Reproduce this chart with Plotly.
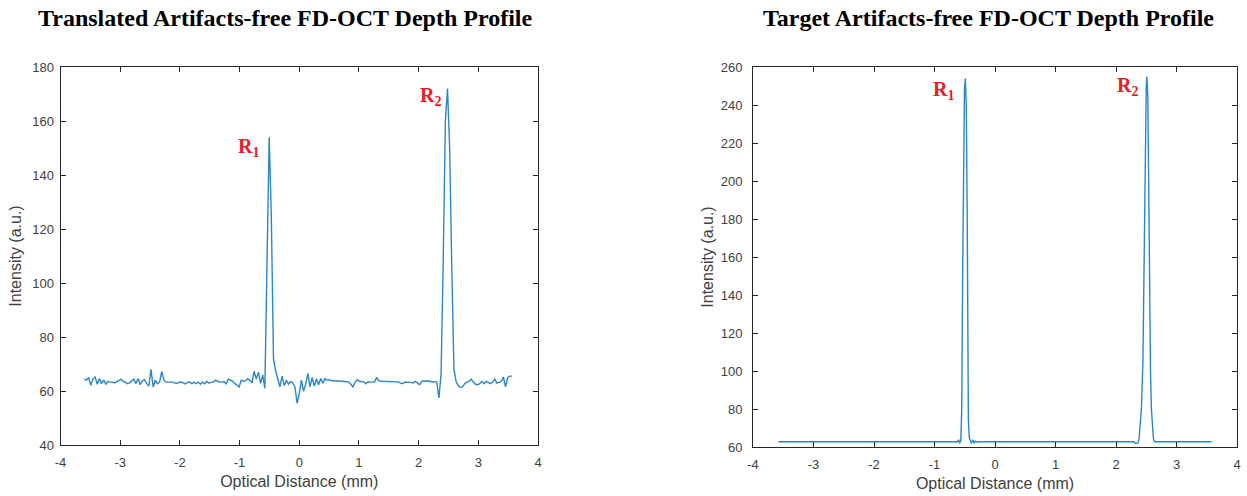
import plotly.graph_objects as go

# ---------------- data ----------------
x_tick_vals = [-4, -3, -2, -1, 0, 1, 2, 3, 4]
x_tick_text = ["-4", "-3", "-2", "-1", "0", "1", "2", "3", "4"]

# Left panel: uniformly sampled depth profile (start / step of the sample grid)
left_x_start = -3.6
left_x_step = 0.036
left_y = [
    64.4, 64.0, 65.0, 62.1, 64.4, 65.2, 62.5, 64.6, 62.7, 64.0,
    62.5, 63.6, 63.3, 63.3, 63.0, 63.3, 63.8, 64.4, 63.6, 63.3,
    62.7, 63.0, 63.6, 64.4, 62.7, 64.6, 62.3, 63.8, 64.2, 62.7,
    61.8, 68.0, 61.5, 64.0, 62.7, 63.3, 67.3, 64.0, 63.3, 63.3,
    63.3, 63.3, 63.0, 62.8, 63.2, 63.3, 63.0, 62.6, 63.2, 63.3,
    62.7, 63.3, 62.7, 63.3, 62.5, 63.3, 62.7, 63.6, 62.9, 63.3,
    63.3, 64.0, 63.6, 63.3, 63.3, 63.5, 62.7, 64.4, 64.0, 63.6,
    62.7, 62.3, 61.5, 64.0, 63.6, 63.8, 64.6, 64.0, 63.0, 67.3,
    64.4, 67.0, 62.8, 66.0, 61.0, 116.0, 154.0, 125.0, 72.0, 67.5,
    64.0, 61.5, 65.5, 62.0, 64.0, 62.5, 63.5, 63.0, 61.5, 55.5,
    59.0, 64.0, 60.0, 62.5, 66.5, 61.5, 65.0, 61.8, 64.5, 62.3,
    64.6, 62.9, 64.6, 64.0, 64.2, 63.8, 63.8, 63.8, 63.8, 63.7,
    63.6, 63.5, 63.4, 63.3, 62.5, 61.5, 63.3, 64.2, 63.6, 63.4,
    63.4, 62.7, 63.4, 63.3, 63.3, 63.3, 65.0, 63.8, 63.6, 63.6,
    63.6, 63.6, 63.6, 63.6, 63.6, 63.5, 63.4, 63.0, 62.7, 63.3,
    63.3, 63.3, 63.2, 63.0, 63.6, 63.0, 62.3, 63.6, 63.8, 63.6,
    63.8, 63.5, 63.5, 63.5, 63.3, 57.4, 66.5, 108.0, 160.0, 172.0,
    150.0, 105.0, 68.0, 63.5, 62.0, 61.3, 61.5, 62.7, 63.3, 63.5,
    64.4, 63.3, 62.5, 62.3, 62.7, 63.6, 62.7, 63.6, 63.0, 62.7,
    63.3, 64.4, 62.9, 63.3, 63.5, 65.2, 61.5, 65.0, 65.5, 65.5,
]

# Right panel: target profile (flat baseline with two narrow peaks)
right_x = [
    -3.58, -0.62, -0.60, -0.585, -0.565, -0.55, -0.535, -0.52, -0.505, -0.49,
    -0.475, -0.46, -0.45, -0.44, -0.425, -0.41, -0.39, -0.365, -0.345, -0.325,
    -0.30, -0.27,
    2.30, 2.32, 2.36, 2.38, 2.40, 2.42, 2.445, 2.465, 2.485, 2.50,
    2.51, 2.525, 2.54, 2.555, 2.57, 2.585, 2.60, 2.62, 2.64, 3.58,
]
right_y = [
    62.8, 62.8, 63.8, 62.0, 63.5, 80.0, 150.0, 215.0, 248.0, 254.0,
    240.0, 185.0, 120.0, 74.0, 65.0, 63.5, 62.0, 63.8, 62.2, 63.0,
    62.5, 62.8,
    62.8, 61.8, 62.0, 64.0, 71.0, 80.0, 105.0, 160.0, 225.0, 250.0,
    255.0, 245.0, 200.0, 135.0, 100.0, 80.0, 70.0, 64.0, 62.8, 62.8,
]

titles = ["Translated Artifacts-free FD-OCT Depth Profile",
          "Target Artifacts-free FD-OCT Depth Profile"]
x_title = "Optical Distance (mm)"
y_title = "Intensity (a.u.)"

# ---------------- figure ----------------
W, H = 1247, 496
LINE_COLOR = "#2a86cc"
AX_COLOR = "#262626"
TICK_FONT = dict(family="Liberation Sans, Arial", size=13, color="#404040")
TITLE_FONT = dict(family="Liberation Sans, Arial", size=16, color="#404040")

fig = go.Figure()
fig.add_trace(go.Scatter(
    y=left_y, x0=left_x_start, dx=left_x_step, mode="lines",
    line=dict(color=LINE_COLOR, width=1.4), xaxis="x", yaxis="y",
    showlegend=False, hoverinfo="skip"))
fig.add_trace(go.Scatter(
    x=right_x, y=right_y, mode="lines",
    line=dict(color=LINE_COLOR, width=1.4), xaxis="x2", yaxis="y2",
    showlegend=False, hoverinfo="skip"))

axis_common = dict(
    showline=True, linecolor=AX_COLOR, linewidth=1, mirror="ticks",
    ticks="inside", ticklen=5, tickcolor=AX_COLOR, tickwidth=1,
    showgrid=False, zeroline=False, tickfont=TICK_FONT, automargin=False,
)

def px_x(p):
    return p / W

def px_y(p):
    return 1 - p / H

fig.update_layout(
    width=W, height=H,
    margin=dict(l=0, r=0, t=0, b=0),
    paper_bgcolor="white", plot_bgcolor="white",
    xaxis=dict(axis_common, domain=[px_x(60.5), px_x(538)], range=[-4, 4],
               tickvals=x_tick_vals, ticktext=x_tick_text, anchor="y",
               ticklabelstandoff=5,
               title=dict(text=x_title, font=TITLE_FONT, standoff=7)),
    yaxis=dict(axis_common, domain=[px_y(445), px_y(67)], range=[40, 180],
               dtick=20, anchor="x", ticklabelstandoff=3,
               title=dict(text=y_title, font=TITLE_FONT, standoff=6)),
    xaxis2=dict(axis_common, domain=[px_x(753), px_x(1237)], range=[-4, 4],
                tickvals=x_tick_vals, ticktext=x_tick_text, anchor="y2",
                ticklabelstandoff=5,
                title=dict(text=x_title, font=TITLE_FONT, standoff=7)),
    yaxis2=dict(axis_common, domain=[px_y(447), px_y(67)], range=[60, 260],
                dtick=20, anchor="x2", ticklabelstandoff=7,
                title=dict(text=y_title, font=TITLE_FONT, standoff=3)),
)

TITLE_STYLE = dict(family="Liberation Serif, Times New Roman", size=24, color="black")
fig.add_annotation(text="<b>" + titles[0] + "</b>", xref="paper", yref="paper",
                   x=px_x(285), y=px_y(18), xanchor="center", yanchor="middle",
                   showarrow=False, font=TITLE_STYLE)
fig.add_annotation(text="<b>" + titles[1] + "</b>", xref="paper", yref="paper",
                   x=px_x(988), y=px_y(18), xanchor="center", yanchor="middle",
                   showarrow=False, font=TITLE_STYLE)

R_STYLE = dict(family="Liberation Serif, Times New Roman", size=20, color="#ee1c25")
r_labels = [
    ("R<sub>1</sub>", "x", "y", -0.85, 150),
    ("R<sub>2</sub>", "x", "y", 2.2, 169),
    ("R<sub>1</sub>", "x2", "y2", -0.85, 247.5),
    ("R<sub>2</sub>", "x2", "y2", 2.19, 249.6),
]
for txt, xr, yr, xv, yv in r_labels:
    fig.add_annotation(text="<b>" + txt + "</b>", xref=xr, yref=yr, x=xv, y=yv,
                       xanchor="center", yanchor="middle", showarrow=False,
                       font=R_STYLE)

fig.write_html("out.html")
